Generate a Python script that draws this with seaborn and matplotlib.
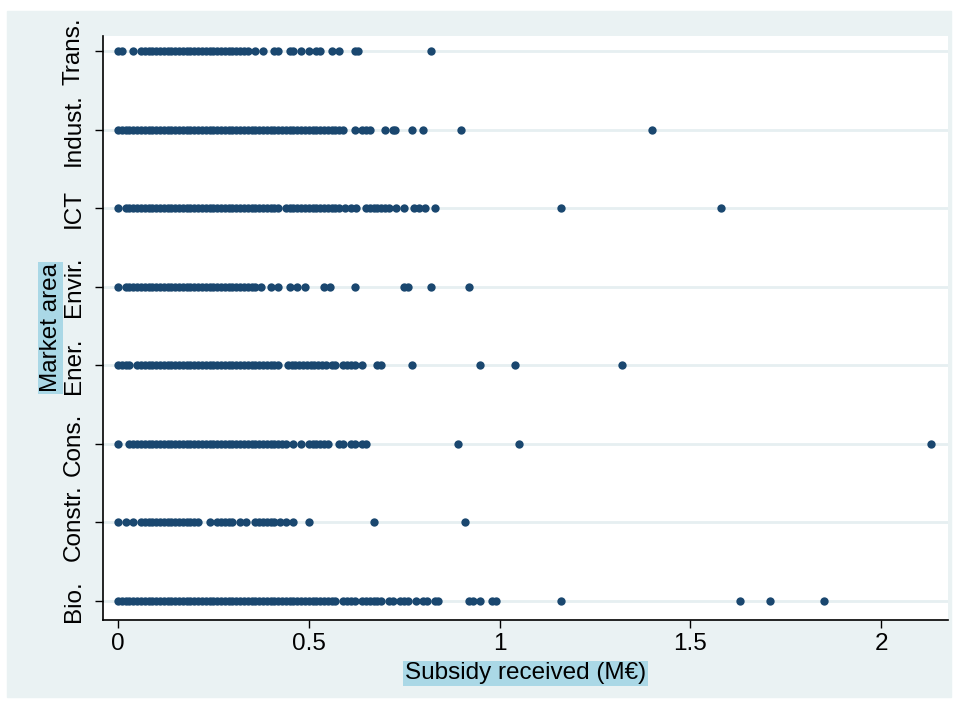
import pandas as pd
import seaborn as sns
import matplotlib.pyplot as plt
from matplotlib.patches import Rectangle

# market areas, top to bottom as in the chart
areas = ['Trans.', 'Indust.', 'ICT', 'Envir.', 'Ener.', 'Cons.', 'Constr.', 'Bio.']

# subsidy received (M€) per firm
trans = [0.00, 0.01, 0.04, 0.06, 0.07, 0.08, 0.09, 0.10, 0.11, 0.12, 0.13, 0.14, 0.15,
         0.16, 0.17, 0.18, 0.19, 0.20, 0.21, 0.22, 0.23, 0.24, 0.25, 0.26, 0.27, 0.28,
         0.29, 0.30, 0.31, 0.32, 0.33, 0.34, 0.36, 0.38, 0.41, 0.42, 0.45, 0.46, 0.48,
         0.50, 0.52, 0.53, 0.56, 0.58, 0.62, 0.63, 0.82]
indust = [0.00, 0.01, 0.02, 0.03, 0.04, 0.05, 0.06, 0.07, 0.08, 0.09, 0.10, 0.11, 0.12,
          0.13, 0.14, 0.15, 0.16, 0.17, 0.18, 0.19, 0.20, 0.21, 0.22, 0.23, 0.24, 0.25,
          0.26, 0.27, 0.28, 0.29, 0.30, 0.31, 0.32, 0.33, 0.34, 0.35, 0.36, 0.37, 0.38,
          0.39, 0.40, 0.41, 0.42, 0.43, 0.44, 0.45, 0.46, 0.47, 0.48, 0.49, 0.50, 0.51,
          0.52, 0.53, 0.54, 0.55, 0.56, 0.57, 0.58, 0.59, 0.62, 0.64, 0.65, 0.66, 0.70,
          0.72, 0.725, 0.77, 0.80, 0.90, 1.40]
ict = [0.00, 0.02, 0.03, 0.04, 0.05, 0.06, 0.07, 0.08, 0.09, 0.10, 0.11, 0.12, 0.13,
       0.14, 0.15, 0.16, 0.17, 0.18, 0.19, 0.20, 0.21, 0.22, 0.23, 0.24, 0.25, 0.26,
       0.27, 0.28, 0.29, 0.30, 0.31, 0.32, 0.33, 0.34, 0.35, 0.36, 0.37, 0.38, 0.39,
       0.40, 0.41, 0.42, 0.44, 0.45, 0.46, 0.47, 0.48, 0.49, 0.50, 0.51, 0.52, 0.53,
       0.54, 0.55, 0.56, 0.57, 0.58, 0.595, 0.61, 0.625, 0.65, 0.66, 0.67, 0.68, 0.69,
       0.70, 0.71, 0.73, 0.75, 0.775, 0.79, 0.805, 0.83, 1.16, 1.58]
envir = [0.00, 0.02, 0.03, 0.04, 0.05, 0.06, 0.07, 0.08, 0.09, 0.10, 0.11, 0.12, 0.13,
         0.14, 0.15, 0.16, 0.17, 0.18, 0.19, 0.20, 0.21, 0.22, 0.23, 0.24, 0.25, 0.26,
         0.27, 0.28, 0.29, 0.30, 0.31, 0.32, 0.33, 0.34, 0.35, 0.36, 0.375, 0.40, 0.42,
         0.45, 0.47, 0.49, 0.54, 0.555, 0.62, 0.75, 0.76, 0.82, 0.92]
ener = [0.00, 0.01, 0.02, 0.03, 0.05, 0.06, 0.07, 0.08, 0.09, 0.10, 0.11, 0.12, 0.13,
        0.14, 0.15, 0.16, 0.17, 0.18, 0.19, 0.20, 0.21, 0.22, 0.23, 0.24, 0.25, 0.26,
        0.27, 0.28, 0.29, 0.30, 0.31, 0.32, 0.33, 0.34, 0.35, 0.36, 0.37, 0.38, 0.39,
        0.40, 0.41, 0.42, 0.445, 0.455, 0.465, 0.475, 0.485, 0.495, 0.505, 0.515, 0.525,
        0.535, 0.545, 0.56, 0.57, 0.59, 0.60, 0.61, 0.62, 0.64, 0.68, 0.69, 0.77, 0.95,
        1.04, 1.32]
cons = [0.00, 0.03, 0.04, 0.05, 0.06, 0.07, 0.08, 0.09, 0.10, 0.11, 0.12, 0.13, 0.14,
        0.15, 0.16, 0.17, 0.18, 0.19, 0.20, 0.21, 0.22, 0.23, 0.24, 0.25, 0.26, 0.27,
        0.28, 0.29, 0.30, 0.31, 0.32, 0.33, 0.34, 0.35, 0.36, 0.37, 0.38, 0.39, 0.40,
        0.41, 0.42, 0.43, 0.44, 0.46, 0.48, 0.50, 0.51, 0.52, 0.53, 0.54, 0.55, 0.58,
        0.59, 0.61, 0.62, 0.64, 0.65, 0.89, 1.05, 2.13]
constr = [0.00, 0.02, 0.04, 0.06, 0.07, 0.08, 0.09, 0.10, 0.11, 0.12, 0.13, 0.14, 0.15,
          0.16, 0.17, 0.18, 0.19, 0.20, 0.21, 0.24, 0.26, 0.27, 0.28, 0.29, 0.30, 0.32,
          0.335, 0.36, 0.37, 0.38, 0.39, 0.40, 0.41, 0.425, 0.44, 0.46, 0.50, 0.67, 0.91]
bio = [0.00, 0.01, 0.02, 0.03, 0.04, 0.05, 0.06, 0.07, 0.08, 0.09, 0.10, 0.11, 0.12,
       0.13, 0.14, 0.15, 0.16, 0.17, 0.18, 0.19, 0.20, 0.21, 0.22, 0.23, 0.24, 0.25,
       0.26, 0.27, 0.28, 0.29, 0.30, 0.31, 0.32, 0.33, 0.34, 0.35, 0.36, 0.37, 0.38,
       0.39, 0.40, 0.41, 0.42, 0.43, 0.44, 0.45, 0.46, 0.47, 0.48, 0.49, 0.50, 0.51,
       0.52, 0.53, 0.54, 0.55, 0.56, 0.57, 0.59, 0.60, 0.61, 0.62, 0.64, 0.65, 0.66,
       0.67, 0.68, 0.69, 0.71, 0.72, 0.74, 0.75, 0.76, 0.78, 0.80, 0.81, 0.83, 0.84,
       0.92, 0.93, 0.95, 0.98, 0.99, 1.16, 1.63, 1.71, 1.85]

values = [trans, indust, ict, envir, ener, cons, constr, bio]
df = pd.DataFrame({
    'area': [a for a, v in zip(areas, values) for _ in v],
    'subsidy': [x for v in values for x in v],
})

sns.set_style('white')
plt.rcParams['font.family'] = ['Liberation Sans', 'DejaVu Sans']
plt.rcParams['text.color'] = 'black'
plt.rcParams['axes.labelcolor'] = 'black'
plt.rcParams['xtick.color'] = 'black'
plt.rcParams['ytick.color'] = 'black'

fig = plt.figure(figsize=(9.58, 7.05), dpi=100)
fig.patch.set_facecolor('white')
# stata-like light graph region, behind the axes
fig.patches.append(Rectangle((7 / 958, 8 / 705), 944 / 958, 686 / 705,
                             transform=fig.transFigure, color='#EAF2F3', zorder=-10))

ax = fig.add_axes([103 / 958, 85 / 705, 845 / 958, 584 / 705])
ax.set_facecolor('white')
sns.stripplot(data=df, x='subsidy', y='area', order=areas, jitter=False,
              color='#1A476F', size=6.0, linewidth=0, ax=ax)

ax.set_xlim(-15 / 381.5, 830 / 381.5)
ax.set_ylim(7 + 19 / 78.57, -15 / 78.57)
ax.set_xticks([0, 0.5, 1, 1.5, 2])
ax.set_xticklabels(['0', '0.5', '1', '1.5', '2'])

ax.set_axisbelow(True)
ax.yaxis.grid(True, color='#E6EFF1', lw=2)
ax.xaxis.grid(False)

for s in ['top', 'right']:
    ax.spines[s].set_visible(False)
for s in ['left', 'bottom']:
    ax.spines[s].set_color('black')
    ax.spines[s].set_linewidth(1.2)

ax.tick_params(axis='both', length=6, width=1, color='black', labelcolor='black',
               labelsize=17.5, left=True, bottom=True)
ax.tick_params(axis='y', pad=7)
plt.setp(ax.get_yticklabels(), rotation=90, va='center')

box = dict(facecolor='#AAD8E6', edgecolor='none', pad=1)
ax.set_xlabel('Subsidy received (M€)', fontsize=17.5, color='black', bbox=box, labelpad=5)
ax.set_ylabel('Market area', fontsize=17.5, color='black', bbox=box, labelpad=1)

fig.savefig('out.png', dpi=100)
